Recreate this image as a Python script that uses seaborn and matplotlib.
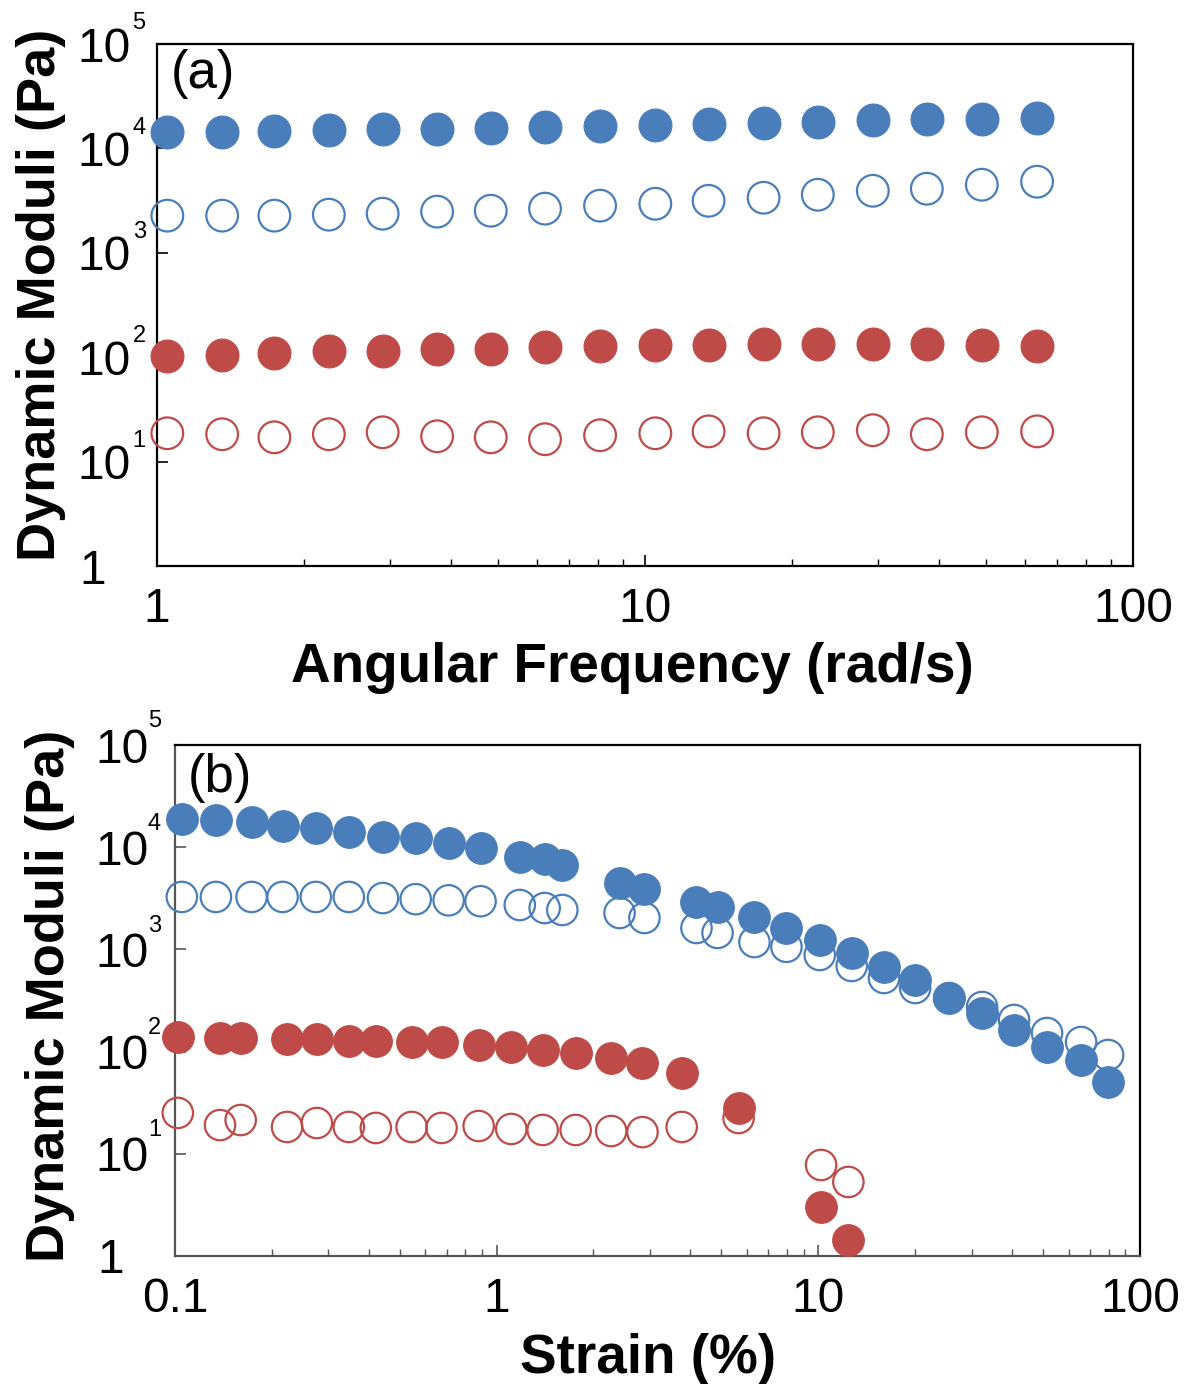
import matplotlib
matplotlib.use("Agg")
import numpy as np
import pandas as pd
import matplotlib.pyplot as plt
import matplotlib.ticker as mticker
import matplotlib.transforms as mtransforms
import seaborn as sns

# settings
sns.set_style("white")
plt.rcParams['font.family'] = ['Liberation Sans', 'DejaVu Sans']
plt.rcParams['text.color'] = 'k'
plt.rcParams['axes.labelcolor'] = 'k'
plt.rcParams['xtick.color'] = 'k'
plt.rcParams['ytick.color'] = 'k'
BLUE = '#4a7ebb'
RED = '#be4b48'

# ===== (a) frequency sweep =====
FREQ = [1.05, 1.36, 1.74, 2.25, 2.90, 3.75, 4.83, 6.24, 8.09, 10.5, 13.5,
        17.5, 22.6, 29.3, 37.8, 49.0, 63.6]
FREQ_BLUE_STORAGE = [14400, 14400, 14700, 15000, 15400, 15400, 15700, 16100,
                     16400, 16800, 17200, 17600, 18000, 18800, 19200, 19200,
                     19600]
FREQ_BLUE_LOSS = [2270, 2270, 2270, 2320, 2370, 2480, 2530, 2650, 2830, 2950,
                  3150, 3370, 3600, 3930, 4110, 4490, 4800]
FREQ_RED_STORAGE = [102, 106, 111, 114, 116, 119, 121, 124, 127, 130, 130, 133,
                    133, 133, 133, 130, 127]
FREQ_RED_LOSS = [18.7, 18.3, 17.1, 18.3, 19.1, 17.5, 17.1, 16.4, 17.9, 18.7,
                 19.5, 18.7, 19.1, 20.0, 18.3, 19.1, 19.5]

# ===== (b) strain sweep =====
STRAIN_BLUE = [0.105, 0.134, 0.173, 0.216, 0.274, 0.347, 0.443, 0.560, 0.709,
               0.891, 1.18, 1.41, 1.60, 2.41, 2.88, 4.18, 4.86, 6.33, 7.96,
               10.1, 12.7, 16.0, 20.0, 25.5, 32.3, 40.6, 51.4, 65.6, 79.6]
STRAIN_BLUE_STORAGE = [18900, 18500, 17600, 16100, 15400, 14100, 12600, 12300,
                       11000, 9820, 8020, 7670, 6700, 4460, 3900, 2910, 2600,
                       2080, 1620, 1240, 922, 673, 502, 334, 239, 163, 111,
                       82.8, 50.4]
STRAIN_BLUE_LOSS = [3260, 3260, 3260, 3260, 3260, 3260, 3180, 3100, 3020, 2960,
                    2720, 2540, 2430, 2270, 2030, 1620, 1450, 1180, 1060, 881,
                    688, 525, 419, 334, 273, 204, 152, 124, 92.6]
STRAIN_RED = [0.102, 0.138, 0.160, 0.223, 0.276, 0.347, 0.421, 0.544, 0.674,
              0.879, 1.11, 1.39, 1.76, 2.27, 2.84, 3.76, 5.65, 10.2, 12.4]
STRAIN_RED_STORAGE = [139, 136, 136, 133, 133, 127, 127, 124, 124, 116, 111,
                      104, 96.9, 86.5, 77.3, 61.8, 28.1, 3.02, 1.43]
STRAIN_RED_LOSS = [25.1, 19.1, 21.4, 18.3, 20.0, 18.3, 17.9, 18.3, 17.9, 18.7,
                   17.5, 17.1, 17.1, 16.7, 16.3, 18.3, 22.4, 7.77, 5.30]

YTICKS = [1, 10, 100, 1e3, 1e4, 1e5]
YEXPONENTS = ['', '1', '2', '3', '4', '5']
YTICKLABELS = ['1\u2002', '10', '10', '10', '10', '10']


def plot_series(ax, df, x, y, color, filled, size):
    # open markers first, filled markers are drawn on top
    if filled:
        sns.scatterplot(data=df, x=x, y=y, ax=ax, s=size, color=color,
                        edgecolor=color, linewidth=0.8, clip_on=False,
                        zorder=4, legend=False)
    else:
        sns.scatterplot(data=df, x=x, y=y, ax=ax, s=size, color=color,
                        facecolor='none', edgecolor=color, linewidth=1.6,
                        clip_on=False, zorder=3, legend=False)


def style_axes(ax, xlim, xticks, xticklabels, xlabel, panel, xpad,
               exp_x, exp_dy, ylab_x, ylab_y, xlab_x, xlab_y, panel_xy,
               edge_color='k'):
    ax.set_xscale('log')
    ax.set_yscale('log')
    ax.set_xlim(xlim)
    ax.set_ylim(1, 1e5)

    ax.set_xticks(xticks, labels=xticklabels)
    ax.set_yticks(YTICKS, labels=YTICKLABELS)
    ax.xaxis.set_minor_locator(mticker.LogLocator(base=10, subs=np.arange(2, 10)))
    ax.yaxis.set_minor_locator(mticker.LogLocator(base=10, subs=np.arange(2, 10)))
    ax.xaxis.set_minor_formatter(mticker.NullFormatter())
    ax.yaxis.set_minor_formatter(mticker.NullFormatter())

    ax.tick_params(which='both', direction='in', top=False, right=False,
                   bottom=True, left=True, colors=edge_color, labelcolor='k')
    ax.tick_params(which='major', length=8, width=1.2, labelsize=34.5)
    ax.tick_params(which='minor', length=5, width=1.0)
    ax.tick_params(axis='x', which='major', pad=xpad)
    ax.tick_params(axis='y', which='major', pad=19)

    for side in ['top', 'right']:
        ax.spines[side].set_color('k')
        ax.spines[side].set_linewidth(1.6)
    for side in ['left', 'bottom']:
        ax.spines[side].set_color(edge_color)
        ax.spines[side].set_linewidth(1.6)

    # superscript exponents of the decade labels
    trans = mtransforms.blended_transform_factory(ax.transAxes, ax.transData)
    for val, ex in zip(YTICKS, YEXPONENTS):
        if ex:
            ax.annotate(ex, xy=(exp_x, val), xycoords=trans,
                        xytext=(0, exp_dy), textcoords='offset points',
                        ha='left', va='center', fontsize=17, color='k',
                        annotation_clip=False)

    ax.set_ylabel('Dynamic Moduli (Pa)', fontsize=39, fontweight='bold')
    ax.yaxis.set_label_coords(ylab_x, ylab_y)
    ax.set_xlabel(xlabel, fontsize=39.5, fontweight='bold')
    ax.xaxis.set_label_coords(xlab_x, xlab_y)

    ax.text(panel_xy[0], panel_xy[1], panel, transform=ax.transAxes,
            ha='left', va='top', fontsize=38, color='k')


def main():
    fig = plt.figure(figsize=(12.02, 13.84), dpi=100)
    ax_a = fig.add_axes([0.1306, 0.5910, 0.8120, 0.3772])
    ax_b = fig.add_axes([0.1456, 0.0925, 0.8028, 0.3692])

    # ===== Upper panel =====
    df_a = pd.DataFrame({'freq': FREQ,
                         'blue_storage': FREQ_BLUE_STORAGE,
                         'blue_loss': FREQ_BLUE_LOSS,
                         'red_storage': FREQ_RED_STORAGE,
                         'red_loss': FREQ_RED_LOSS})
    plot_series(ax_a, df_a, 'freq', 'blue_loss', BLUE, False, 520)
    plot_series(ax_a, df_a, 'freq', 'red_loss', RED, False, 520)
    plot_series(ax_a, df_a, 'freq', 'blue_storage', BLUE, True, 560)
    plot_series(ax_a, df_a, 'freq', 'red_storage', RED, True, 560)
    style_axes(ax_a, (1, 100), [1, 10, 100], ['1', '10', '100'],
               'Angular Frequency (rad/s)', '(a)', xpad=15,
               exp_x=-0.025, exp_dy=15, ylab_x=-0.093, ylab_y=0.52,
               xlab_x=0.487, xlab_y=-0.145, panel_xy=(0.014, 0.99))

    # ===== Lower panel =====
    df_blue = pd.DataFrame({'strain': STRAIN_BLUE,
                            'storage': STRAIN_BLUE_STORAGE,
                            'loss': STRAIN_BLUE_LOSS})
    df_red = pd.DataFrame({'strain': STRAIN_RED,
                           'storage': STRAIN_RED_STORAGE,
                           'loss': STRAIN_RED_LOSS})
    plot_series(ax_b, df_blue, 'strain', 'loss', BLUE, False, 480)
    plot_series(ax_b, df_red, 'strain', 'loss', RED, False, 480)
    plot_series(ax_b, df_blue, 'strain', 'storage', BLUE, True, 520)
    plot_series(ax_b, df_red, 'strain', 'storage', RED, True, 520)
    style_axes(ax_b, (0.1, 100), [0.1, 1, 10, 100], ['0.1', '1', '10', '100'],
               'Strain (%)', '(b)', xpad=15,
               exp_x=-0.028, exp_dy=17, ylab_x=-0.104, ylab_y=0.51,
               xlab_x=0.49, xlab_y=-0.15, panel_xy=(0.013, 0.985),
               edge_color='#555555')

    fig.savefig('out.png', dpi=100)
    plt.close('all')


if __name__ == "__main__":
    main()
